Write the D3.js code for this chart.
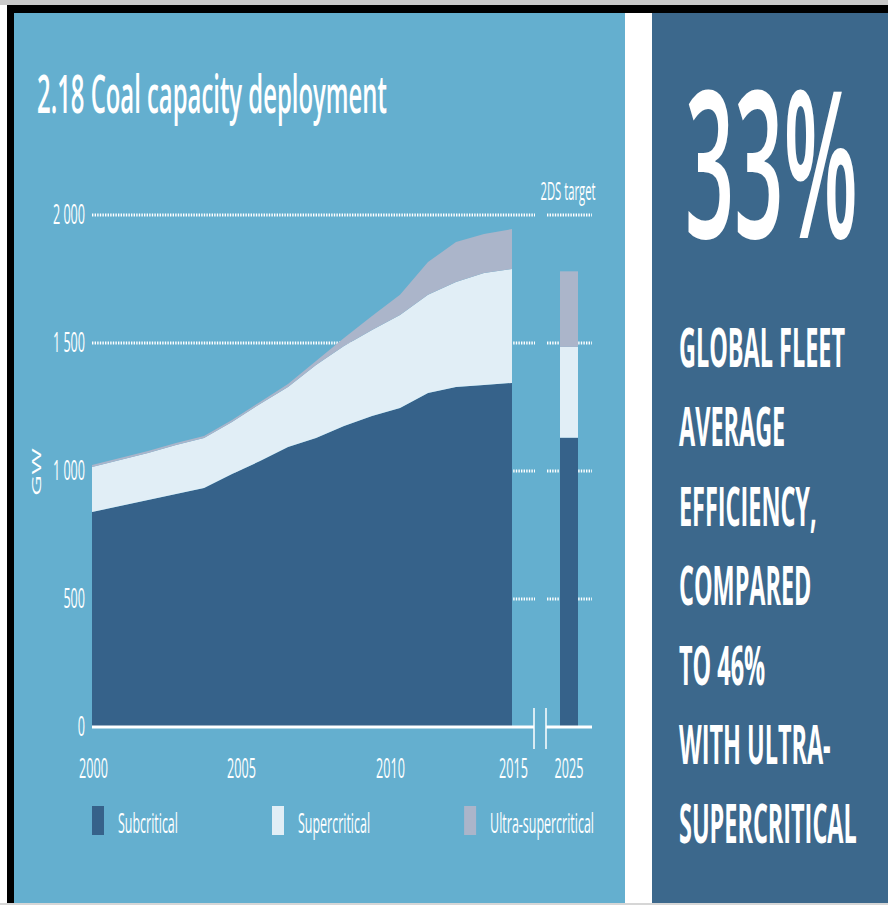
<!DOCTYPE html>
<html>
<head>
<meta charset="utf-8">
<script src="https://cdn.jsdelivr.net/npm/d3@7"></script>
<style>
  html, body { margin: 0; padding: 0; background: #fff; }
  svg { display: block; }
  text { font-family: "Open Sans", sans-serif; fill: #fff; }
</style>
</head>
<body>
<div id="chart"></div>
<script>
// values, GW
const years = [2000, 2001, 2002, 2003, 2004, 2005, 2006, 2007, 2008, 2009, 2010, 2011, 2012, 2013, 2014, 2015];
const subcritical = [840, 863, 887, 910, 934, 988, 1039, 1094, 1129, 1176, 1215, 1246, 1305, 1328, 1336, 1344];
const supercritical = [176, 180, 183, 192, 195, 203, 223, 234, 285, 312, 336, 363, 383, 410, 437, 445];
const ultraSupercritical = [7, 8, 8, 7, 8, 8, 8, 12, 16, 32, 54, 79, 128, 157, 153, 156];

// 2DS target bar
const targetYear = "2025";
const targetValues = [1130, 355, 295];

const seriesNames = ["Subcritical", "Supercritical", "Ultra-supercritical"];
const seriesColors = ["#36628a", "#e1eef6", "#abb5ca"];
const yTicks = [0, 500, 1000, 1500, 2000];
const xTicks = [2000, 2005, 2010, 2015];

const bigStat = "33%";
const statLines = ["GLOBAL FLEET", "AVERAGE", "EFFICIENCY,", "COMPARED", "TO 46%", "WITH ULTRA-", "SUPERCRITICAL"];

// the figure's lettering is very narrow, so text is squeezed sideways
const K = 0.45;

const W = 888, H = 905;

const svg = d3.select("#chart")
  .append("svg")
  .attr("width", W)
  .attr("height", H);

// frame and panels
svg.append("rect").attr("x", 0).attr("y", 0).attr("width", W).attr("height", 5).attr("fill", "#c9c9c9");
svg.append("rect").attr("x", 7).attr("y", 5).attr("width", W - 7).attr("height", 898).attr("fill", "#000");
svg.append("rect").attr("x", 14).attr("y", 13).attr("width", 611).attr("height", 890).attr("fill", "#64afcf");
svg.append("rect").attr("x", 625).attr("y", 13).attr("width", 27).attr("height", 890).attr("fill", "#fff");
svg.append("rect").attr("x", 652).attr("y", 13).attr("width", 236).attr("height", 890).attr("fill", "#3c688c");
svg.append("rect").attr("x", 0).attr("y", 903).attr("width", W).attr("height", 2).attr("fill", "#d6d6d6");

// squeeze a text element placed at (x, y)
function squeeze(sel, x, y, k) {
  sel.attr("x", 0).attr("y", 0)
    .attr("transform", "translate(" + x + "," + y + ") scale(" + k + ",1)");
}

// squeeze so the text is exactly w wide
function fitWidth(sel, x, y, w) {
  const len = sel.node().getComputedTextLength();
  squeeze(sel, x, y, w / len);
  return w / len;
}

// scales
const x = d3.scaleLinear().domain([2000, 2015]).range([92, 512]);
// the printed year labels sit a little off the data grid in the original
const xLabel = d3.scaleLinear().domain([2000, 2005, 2010, 2015]).range([93, 241, 390, 513]);
const xTarget = d3.scaleBand().domain([targetYear]).range([560, 578]);
const y = d3.scaleLinear().domain([0, 2000]).range([727, 215]);

const breakL = 534, breakR = 546, axisEnd = 592;

// title
const title = svg.append("text")
  .attr("font-size", 52)
  .attr("font-weight", 600)
  .text("2.18 Coal capacity deployment");
fitWidth(title, 37, 113, 350);

// dotted gridlines, broken between 2015 and 2025
const grid = svg.append("g");
yTicks.filter(d => d > 0).forEach(d => {
  [[x.range()[0], breakL + 1], [breakR + 1, axisEnd]].forEach(seg => {
    grid.append("line")
      .attr("x1", seg[0]).attr("x2", seg[1])
      .attr("y1", y(d)).attr("y2", y(d))
      .attr("stroke", "#fff")
      .attr("stroke-width", 3)
      .attr("stroke-dasharray", "1.4,1.2");
  });
});

// stacked areas
const rows = years.map((yr, i) => ({
  year: yr,
  Subcritical: subcritical[i],
  Supercritical: supercritical[i],
  "Ultra-supercritical": ultraSupercritical[i]
}));

const stack = d3.stack().keys(seriesNames);
const layers = stack(rows);

const area = d3.area()
  .x(d => x(d.data.year))
  .y0(d => y(d[0]))
  .y1(d => y(d[1]));

svg.append("g").selectAll("path")
  .data(layers)
  .enter()
  .append("path")
    .attr("d", area)
    .attr("fill", (d, i) => seriesColors[i]);

// 2025 target bar
const targetRow = { year: targetYear };
seriesNames.forEach((n, i) => targetRow[n] = targetValues[i]);
const targetLayers = stack([targetRow]);

svg.append("g").selectAll("rect")
  .data(targetLayers)
  .enter()
  .append("rect")
    .attr("x", xTarget(targetYear))
    .attr("width", xTarget.bandwidth())
    .attr("y", d => y(d[0][1]))
    .attr("height", d => y(d[0][0]) - y(d[0][1]))
    .attr("fill", (d, i) => seriesColors[i]);

// baseline with axis break
[[x.range()[0], breakL], [breakR, axisEnd]].forEach(seg => {
  svg.append("line")
    .attr("x1", seg[0]).attr("x2", seg[1])
    .attr("y1", y(0)).attr("y2", y(0))
    .attr("stroke", "#fff")
    .attr("stroke-width", 3);
});
[breakL, breakR].forEach(bx => {
  svg.append("line")
    .attr("x1", bx).attr("x2", bx)
    .attr("y1", y(0) - 19).attr("y2", y(0) + 22)
    .attr("stroke", "#fff")
    .attr("stroke-width", 1.5);
});

// y axis
const locale = d3.formatLocale({ decimal: ".", thousands: " ", grouping: [3], currency: ["", ""] });
const yAxis = svg.append("g")
  .attr("transform", "translate(" + x.range()[0] + ",0)")
  .call(d3.axisLeft(y).tickValues(yTicks).tickSize(0).tickFormat(locale.format(",")));
yAxis.select(".domain").remove();
yAxis.selectAll("text")
  .attr("font-size", 28)
  .attr("font-weight", 500)
  .attr("font-family", "Open Sans")
  .attr("fill", "#f2f7fa")
  .attr("x", -7 / K)
  .attr("dy", "0.3em")
  .attr("transform", "scale(" + K + ",1)");

svg.append("text")
  .attr("font-size", 29)
  .attr("font-weight", 500)
  .attr("text-anchor", "middle")
  .attr("transform", "translate(41,472) scale(" + K + ",1) rotate(-90)")
  .text("GW");

// x axis
function styleX(g) {
  g.select(".domain").remove();
  g.selectAll("text")
    .attr("font-size", 28)
    .attr("font-weight", 500)
    .attr("font-family", "Open Sans")
    .attr("fill", "#f2f7fa")
    .attr("y", 51)
    .attr("dy", 0)
    .attr("transform", "scale(" + K + ",1)");
}
const xAxis = svg.append("g")
  .attr("transform", "translate(0," + y(0) + ")")
  .call(d3.axisBottom(xLabel).tickValues(xTicks).tickSize(0).tickFormat(d3.format("d")));
styleX(xAxis);

const xAxis2 = svg.append("g")
  .attr("transform", "translate(0," + y(0) + ")")
  .call(d3.axisBottom(xTarget).tickSize(0));
styleX(xAxis2);

// 2DS target label
const tLabel = svg.append("text")
  .attr("font-size", 25)
  .attr("font-weight", 500)
  .attr("text-anchor", "middle")
  .text("2DS target");
squeeze(tLabel, 568, 200, K);

// legend, flowed left to right
const legendProbe = svg.append("text").attr("font-size", 28).attr("font-weight", 500).text(seriesNames[0]);
const kLegend = 60 / legendProbe.node().getComputedTextLength();
legendProbe.remove();

let lx = 92;
seriesNames.forEach((n, i) => {
  svg.append("rect")
    .attr("x", lx).attr("y", 806)
    .attr("width", 12).attr("height", 29)
    .attr("fill", seriesColors[i]);
  const t = svg.append("text")
    .attr("font-size", 28)
    .attr("font-weight", 500)
    .attr("fill", "#f2f7fa")
    .text(n);
  const w = t.node().getComputedTextLength() * kLegend;
  squeeze(t, lx + 26, 833, kLegend);
  lx += 26 + w + 94;
});

// right panel
const stat = svg.append("text")
  .attr("font-size", 205)
  .attr("font-weight", 600)
  .text(bigStat);
fitWidth(stat, 685, 238, 173);

const probe = svg.append("text")
  .attr("font-size", 53)
  .attr("font-weight", 700)
  .text(statLines[0]);
const kStat = 166 / probe.node().getComputedTextLength();
probe.remove();

svg.append("g").selectAll("text")
  .data(statLines)
  .enter()
  .append("text")
    .attr("font-size", 53)
    .attr("font-weight", 700)
    .attr("transform", (d, i) => "translate(679," + (367 + i * 79.4) + ") scale(" + kStat + ",1)")
    .text(d => d);
</script>
</body>
</html>
